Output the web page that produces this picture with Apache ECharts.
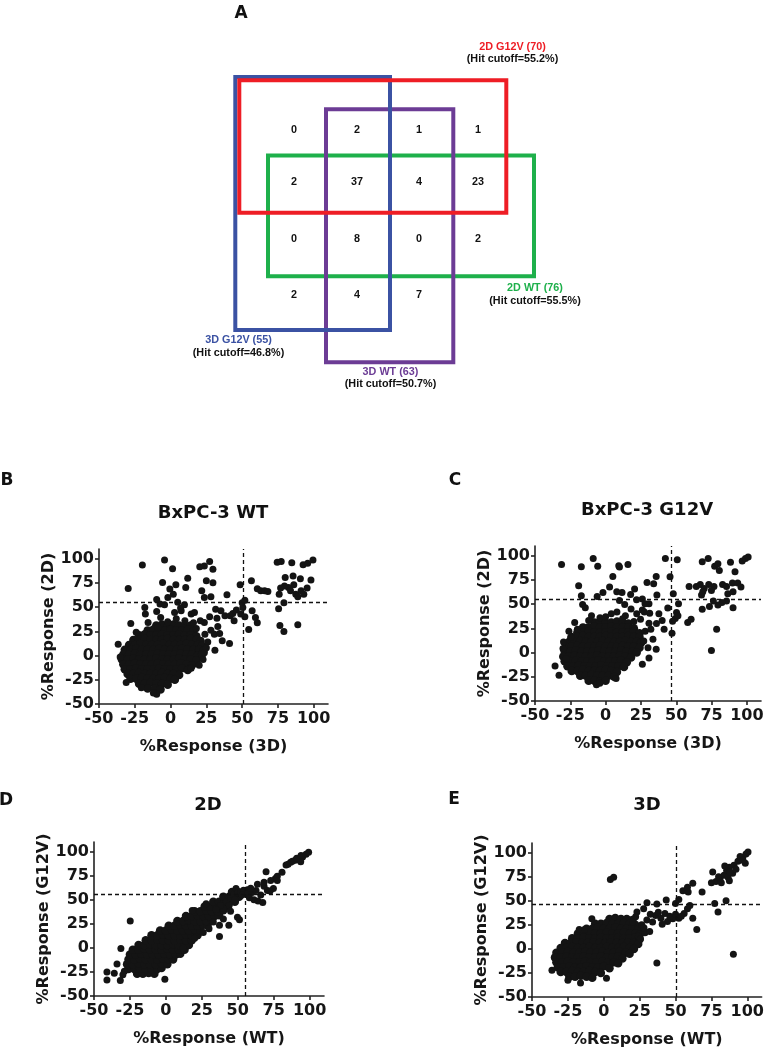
<!DOCTYPE html>
<html>
<head>
<meta charset="utf-8">
<script src="https://cdn.jsdelivr.net/npm/echarts@6/dist/echarts.min.js"></script>
<style>
  html, body { margin: 0; padding: 0; background: #fff; }
  #chart { width: 767px; height: 1050px; }
</style>
</head>
<body>
<div id="chart"></div>
<script>
// ---- panel A: hit overlap counts (rows top->bottom, cols left->right)
const vennCounts = [
  [0, 2, 1, 1],
  [2, 37, 4, 23],
  [0, 8, 0, 2],
  [2, 4, 7, null],
];
const setNames = ["2D G12V", "2D WT", "3D G12V", "3D WT"];
const setHits = [70, 76, 55, 63];
const setCutoffs = [55.2, 55.5, 46.8, 50.7];

const axisTicks = [-50, -25, 0, 25, 50, 75, 100];

// ---- panel B: BxPC-3 WT, x = 3D, y = 2D
const bCore = [
  [-10,31],[-6,32],[-2,31],[2,32],[6,31],[10,30],[14,31],
  [-16,26],[-12,27],[-8,26],[-4,26],[0,27],[4,26],[8,26],[12,27],[16,25],
  [-22,21],[-18,22],[-14,21],[-10,21],[-6,22],[-2,21],[2,21],[6,22],[10,21],[14,21],[18,20],
  [-26,16],[-22,16],[-18,17],[-14,16],[-10,16],[-6,16],[-2,17],[2,16],[6,16],[10,16],[14,17],[18,16],[21,15],
  [-29,11],[-25,11],[-21,12],[-17,11],[-13,11],[-9,11],[-5,12],[-1,11],[3,11],[7,11],[11,12],[15,11],[19,11],[22,10],
  [-32,6],[-28,6],[-24,7],[-20,6],[-16,6],[-12,6],[-8,7],[-4,6],[0,6],[4,6],[8,7],[12,6],[16,6],[20,6],[23,5],
  [-33,1],[-29,1],[-25,2],[-21,1],[-17,1],[-13,1],[-9,2],[-5,1],[-1,1],[3,1],[7,2],[11,1],[15,1],[19,0],[22,1],
  [-34,-4],[-30,-4],[-26,-3],[-22,-4],[-18,-4],[-14,-4],[-10,-3],[-6,-4],[-2,-4],[2,-4],[6,-3],[10,-4],[14,-4],[18,-5],
  [-33,-9],[-29,-9],[-25,-8],[-21,-9],[-17,-9],[-13,-9],[-9,-8],[-5,-9],[-1,-9],[3,-9],[7,-8],[11,-9],[15,-10],
  [-32,-14],[-28,-14],[-24,-13],[-20,-14],[-16,-14],[-12,-14],[-8,-13],[-4,-14],[0,-14],[4,-14],[8,-13],[12,-15],
  [-30,-19],[-26,-19],[-22,-18],[-18,-19],[-14,-19],[-10,-19],[-6,-18],[-2,-19],[2,-19],[6,-20],
  [-28,-24],[-24,-24],[-20,-23],[-16,-24],[-12,-24],[-8,-24],[-4,-23],[0,-24],[3,-25],
  [-22,-29],[-18,-29],[-14,-28],[-10,-29],[-6,-29],[-2,-30],
  [-16,-34],[-11,-34],[-7,-35],
];
const bSpread = [
  [-19.7,93.4],[-4.2,98.6],[1.4,89.7],[-29.6,69.3],[20.4,91.7],[23.6,92.4],[27.3,97.2],[29.6,89],
  [12,79.7],[-5.6,75.5],[-0.5,68.6],[3.7,73.1],[1.9,63.4],[-1.9,60],[-9.7,57.9],[-7.4,53.1],[-4.2,52.4],
  [10.6,70.3],[9.7,52.4],[25,77.2],[29.6,75.2],[21.8,66.9],[28.2,60.7],[23.6,60],[39.4,62.8],
  [48.6,73.1],[56.5,77.2],[60.6,69],[63,66.9],[65.7,66.9],[68,66.2],[50,54.5],[51.9,57.2],[50.5,49.7],
  [49,42.8],[51.9,40],[57,46.2],[59.3,39.3],[60.6,33.8],[54.6,26.9],
  [74.5,96.2],[77.3,97.2],[84.7,95.9],[92.6,93.8],[95.8,95.2],[99.5,98.6],[80.1,80.7],[85.6,82.1],
  [90.7,79.3],[86.1,73.1],[82.4,70.3],[79.6,71.7],[76.9,69.7],[83.8,66.9],[87.5,63.4],[91.2,66.9],
  [95.4,69.7],[98.1,77.9],[88.9,60.7],[93.1,63.4],[75.9,63.4],[75.5,48.3],[79.2,54.5],[76.4,31],
  [79.2,24.8],[88.9,31.7],[31.5,47.9],[35.2,46.2],[38,41],[41.7,41],[32.4,38.6],[27.3,40],[23.6,34.1],
  [28.2,26.2],[30.6,22],[34.3,22.8],[36.1,15.2],[41.2,12.4],[31,5.5],[23.6,2.8],[22.7,-4.1],[14.4,-13.1],
  [-17.6,42.8],[-15.7,34.1],[-27.8,33.1],[-18,49.7],[-9.7,45.5],[-6.9,39.3],[-8.8,29],[2.8,44.5],
  [7.4,46.2],[14.4,42.8],[-36.6,11.7],[-35.2,-1.4],[-31,-27.9],[-20.4,-33.1],[-9.7,-40],[-12,-38.6],
  [16.7,44.5],[20.8,35.9],[44.4,35.9],[43.5,43.4],[46,47],[18,28],[24,22],[26,14],[33,30],[5,55],[7,49],
  [10,36],[4,38],[-2,35],[16,34],[25,8],[20,-10],[-24,24],
];

// ---- panel C: BxPC-3 G12V, x = 3D, y = 2D
const cCore = [
  [-8,31],[-4,32],[0,31],[4,31],[8,32],[12,31],[16,30],
  [-16,26],[-12,26],[-8,27],[-4,26],[0,26],[4,27],[8,26],[12,26],[16,26],[20,25],
  [-20,21],[-16,21],[-12,22],[-8,21],[-4,21],[0,21],[4,22],[8,21],[12,21],[16,21],[20,22],[24,20],
  [-24,16],[-20,16],[-16,17],[-12,16],[-8,16],[-4,16],[0,17],[4,16],[8,16],[12,16],[16,17],[20,16],[24,16],
  [-26,11],[-22,11],[-18,12],[-14,11],[-10,11],[-6,11],[-2,12],[2,11],[6,11],[10,11],[14,12],[18,11],[22,11],[25,10],
  [-28,6],[-24,6],[-20,7],[-16,6],[-12,6],[-8,6],[-4,7],[0,6],[4,6],[8,6],[12,7],[16,6],[20,6],[24,5],
  [-29,1],[-25,1],[-21,2],[-17,1],[-13,1],[-9,1],[-5,2],[-1,1],[3,1],[7,1],[11,2],[15,1],[19,1],[22,0],
  [-30,-4],[-26,-4],[-22,-3],[-18,-4],[-14,-4],[-10,-4],[-6,-3],[-2,-4],[2,-4],[6,-4],[10,-3],[14,-4],[18,-5],
  [-29,-9],[-25,-9],[-21,-8],[-17,-9],[-13,-9],[-9,-9],[-5,-8],[-1,-9],[3,-9],[7,-9],[11,-8],[15,-10],
  [-27,-14],[-23,-14],[-19,-13],[-15,-14],[-11,-14],[-7,-14],[-3,-13],[1,-14],[5,-14],[9,-14],[13,-15],
  [-24,-19],[-20,-19],[-16,-18],[-12,-19],[-8,-19],[-4,-19],[0,-18],[4,-19],[8,-20],
  [-18,-24],[-14,-24],[-10,-23],[-6,-24],[-2,-24],[2,-24],[6,-25],
  [-12,-29],[-8,-29],[-4,-30],[0,-29],
];
const cSpread = [
  [-31.2,91],[-8.8,97.2],[-5.6,89],[-17.2,88.6],[9.3,89.6],[9.8,88.3],[15.8,91],[42.3,97.2],[50.7,95.9],
  [45.6,78.3],[68.4,93.8],[72.6,97.2],[77.2,89],[79.5,91.7],[80.5,84.8],[88.4,93.1],[91.6,83.4],
  [96.7,94.5],[99,97.2],[100.9,98.6],[59.1,68.3],[64.2,68.3],[67,70.3],[69.8,66.2],[73,70.3],
  [76.7,68.3],[82.8,70.3],[85.6,68.3],[89.8,71.7],[93.5,71.7],[95.8,67.6],[67.9,59.3],[68.8,62.8],
  [74.9,64.1],[86.5,60.7],[90.2,62.8],[85.6,53.1],[82.3,51.7],[73.5,47.6],[79.5,49],[90.2,46.2],
  [68.4,44.8],[76.3,53.1],[78.6,24.1],[74.9,2.1],[47.9,60.7],[51.6,50.3],[50.2,41.4],[49.3,35.2],
  [47.4,32.4],[51.2,37.9],[47,20],[58.1,31],[60.5,34.5],[35.8,78.6],[34,71],[29.3,72.4],[36.3,59.3],
  [30.7,50.3],[31.2,40.7],[26,55.2],[27.9,50.3],[21.9,54.5],[17.7,60],[13.5,49.7],[9.8,53.8],
  [5.1,78.6],[-1.9,62.1],[-6,57.9],[2.8,67.6],[11.6,62.1],[20.5,65.5],[7.9,62.8],[-19.1,69],
  [-17.2,58.6],[-16.3,49.7],[-14.4,46.2],[-21.9,31],[-24.7,15.9],[-29.8,11],[-30.2,4.1],[-35.8,-13.8],
  [-33,-23.4],[-27.9,-6.2],[-6.5,-33.1],[-4.2,-31.7],[7.4,-26.9],[24.7,34.5],[30.7,30.3],[37.7,40],
  [41.4,24.1],[33.5,13.8],[35.8,3.4],[30.7,-5.5],[18,45],[22,40],[14,38],[26,44],[8,42],[-10,38],
  [-12,33],[-20,24],[28,22],[32,24],[27,12],[30,5],[36,30],[40,33],[44,46],[27.4,42],[4,40],[-4,36],
  [12,35],[0,37],[20,32],[26,-12],[-26,22],
];

// ---- panel D: 2D, x = WT, y = G12V
const dCore = [
  [-20,-27],[-16,-27],[-12,-26],[-8,-27],
  [-26,-22],[-22,-22],[-18,-21],[-14,-22],[-10,-22],[-6,-22],[-3,-21],
  [-27,-17],[-23,-17],[-19,-16],[-15,-17],[-11,-17],[-7,-17],[-3,-16],[1,-17],
  [-26,-12],[-22,-12],[-18,-11],[-14,-12],[-10,-12],[-6,-12],[-2,-11],[2,-12],[5,-12],
  [-25,-7],[-21,-7],[-17,-6],[-13,-7],[-9,-7],[-5,-7],[-1,-6],[3,-7],[7,-7],[10,-6],
  [-23,-2],[-19,-2],[-15,-1],[-11,-2],[-7,-2],[-3,-2],[1,-1],[5,-2],[9,-2],[13,-2],
  [-19,3],[-15,3],[-11,4],[-7,3],[-3,3],[1,3],[5,4],[9,3],[13,3],[16,3],
  [-14,8],[-10,8],[-6,9],[-2,8],[2,8],[6,8],[10,9],[14,8],[18,8],
  [-10,13],[-6,13],[-2,14],[2,13],[6,13],[10,13],[14,14],[18,13],[22,13],
  [-4,18],[0,18],[4,19],[8,18],[12,18],[16,18],[20,19],[24,18],
  [2,23],[6,23],[10,24],[14,23],[18,23],[22,23],[26,24],[29,23],
  [8,28],[12,28],[16,29],[20,28],[24,28],[28,28],[32,29],
  [14,33],[18,33],[22,34],[26,33],[30,33],[34,33],[37,34],
  [20,38],[24,38],[28,39],[32,38],[36,38],[40,39],
  [27,43],[31,43],[35,44],[39,43],[43,43],
  [33,48],[37,48],[41,49],[45,48],[48,48],
  [40,53],[44,53],[48,54],[51,53],
  [46,58],[50,58],
];
const dSpread = [
  [-24.8,27.8],[-41,-25],[-41,-33.3],[-35.9,-26.4],[-31.7,-34],[-34,-16.7],[-28.9,-24.3],[-29.9,-27.8],
  [-31.3,-0.7],[-0.7,-32.6],[18.3,38.9],[28,45.8],[37.3,23.6],[37.3,11.8],[43.8,23.6],[49.8,31.9],
  [51.2,29.2],[48.8,61.8],[56.7,60.4],[60,57.6],[61.3,50],[64.1,48.6],[67.4,47.2],[66,54.9],[68.3,63.9],
  [70.6,59.7],[74.8,61.8],[76.2,72.2],[69.7,79.2],[77.5,74.3],[80.8,78.5],[72.5,59],[62.7,59.7],
  [58.1,52.1],[83.6,86.1],[86.8,88.9],[90,91],[92.8,92.4],[95.1,94.4],[97.5,97.2],[99.3,99.3],
  [93.8,89.6],[72.9,70.1],[77.5,70.1],[68.3,68.1],[63.7,66],[42,48],[45,52],[47,55],[50,57],[52,58],
  [54,60],[44,44],[48,50],[40,41],[38,44],[35,40],[53,55],[57,56],[59,62],[88,90],[91,93],[85,87],
  [94,96],[30,20],[33,27],[26,16],[20,10],[12,0],[40,30],[45,38],
];

// ---- panel E: 3D, x = WT, y = G12V
const eCore = [
  [4,31],[8,32],[12,31],[16,31],[20,30],
  [-6,26],[-2,26],[2,27],[6,26],[10,26],[14,27],[18,26],[22,25],
  [-12,21],[-8,21],[-4,22],[0,21],[4,21],[8,22],[12,21],[16,21],[20,22],[24,20],
  [-18,16],[-14,16],[-10,17],[-6,16],[-2,16],[2,17],[6,16],[10,16],[14,17],[18,16],[22,16],[25,15],
  [-22,11],[-18,11],[-14,12],[-10,11],[-6,11],[-2,12],[2,11],[6,11],[10,12],[14,11],[18,11],[22,12],[25,10],
  [-27,6],[-23,6],[-19,7],[-15,6],[-11,6],[-7,7],[-3,6],[1,6],[5,7],[9,6],[13,6],[17,7],[21,6],[24,5],
  [-30,1],[-26,1],[-22,2],[-18,1],[-14,1],[-10,2],[-6,1],[-2,1],[2,2],[6,1],[10,1],[14,2],[18,1],[21,0],
  [-33,-4],[-29,-4],[-25,-3],[-21,-4],[-17,-4],[-13,-3],[-9,-4],[-5,-4],[-1,-3],[3,-4],[7,-4],[11,-3],[15,-4],[18,-5],
  [-34,-9],[-30,-9],[-26,-8],[-22,-9],[-18,-9],[-14,-8],[-10,-9],[-6,-9],[-2,-8],[2,-9],[6,-9],[10,-8],[13,-10],
  [-33,-14],[-29,-14],[-25,-13],[-21,-14],[-17,-14],[-13,-13],[-9,-14],[-5,-14],[-1,-13],[3,-14],[7,-14],[10,-15],
  [-32,-19],[-28,-19],[-24,-18],[-20,-19],[-16,-19],[-12,-18],[-8,-19],[-4,-19],[0,-18],[4,-20],
  [-30,-24],[-26,-24],[-22,-23],[-18,-24],[-14,-24],[-10,-23],[-6,-24],[-2,-25],
  [-24,-29],[-20,-29],[-16,-28],[-12,-29],[-8,-30],
];
const eSpread = [
  [4.6,72.2],[6.9,74.3],[-8.3,31.3],[-17.1,20.1],[-13.4,20.1],[-36.1,-22.2],[-25,-32.6],[-16.2,-35.4],
  [1.9,-30.6],[37,-14.6],[90.3,-5.6],[85.2,50],[77.3,47.2],[79.6,38.2],[64.8,20.1],[62,31.9],
  [75.9,79.9],[78.2,70.1],[75,68.8],[81,72.9],[83.8,76.4],[85.6,81.3],[87.5,84.7],[90.7,86.8],
  [93.5,91],[96.8,95.1],[99.1,98.6],[100.5,100.7],[98.6,88.9],[89.8,78.5],[86.6,74.3],[92.1,82.6],
  [84.3,86.1],[81.9,68.8],[87.5,70.8],[55.1,60.4],[58.3,63.9],[62,68.1],[58.8,59],[68.5,59],
  [52.3,51.4],[50,47.2],[43.5,50.7],[37,46.5],[30.1,47.9],[42.6,36.8],[52.3,31.9],[56,36.8],
  [58.3,41.7],[48.1,31.3],[44.4,28.5],[40.7,25.7],[36.1,34.7],[32.4,36.1],[27.8,41.7],[23.1,38.2],
  [26.4,25],[24.1,13.2],[22.2,33.3],[39.8,31.9],[28.7,16.7],[25.5,10.4],[30,30],[34,28],[38,38],
  [46,34],[50,36],[54,34],[60,45],[28,22],[32,18],[20,28],[95,96],[97,92],[80,75],[88,80],
];

// ------------------------------------------------------------------
const INK = "#141414";
const tickFont = { fontFamily: "DejaVu Sans", fontWeight: "bold", fontSize: 16, color: "#161616" };
const nameFont = { fontFamily: "DejaVu Sans", fontWeight: "bold", fontSize: 16, color: "#161616" };

const panels = [
  { grid: { left: 99, top: 549, width: 229, height: 155 }, x: "%Response (3D)", y: "%Response (2D)",
    core: bCore, spread: bSpread, cut: [setCutoffs[3], setCutoffs[1]] },
  { grid: { left: 535, top: 546, width: 226, height: 155 }, x: "%Response (3D)", y: "%Response (2D)",
    core: cCore, spread: cSpread, cut: [setCutoffs[2], setCutoffs[0]] },
  { grid: { left: 94, top: 842, width: 230, height: 154 }, x: "%Response (WT)", y: "%Response (G12V)",
    core: dCore, spread: dSpread, cut: [setCutoffs[1], setCutoffs[0]] },
  { grid: { left: 532, top: 843, width: 230, height: 154 }, x: "%Response (WT)", y: "%Response (G12V)",
    core: eCore, spread: eSpread, cut: [setCutoffs[3], setCutoffs[2]] },
];

function axisBase(i, name, isX) {
  return {
    gridIndex: i,
    type: "value",
    min: -50,
    max: 110,
    name: name,
    nameLocation: "middle",
    nameGap: isX ? 35 : 42,
    nameTextStyle: nameFont,
    axisLine: { show: true, onZero: false, lineStyle: { color: "#222", width: 1.6 } },
    axisTick: { show: true, length: 4, customValues: axisTicks, lineStyle: { color: "#222", width: 1.6 } },
    axisLabel: Object.assign({ customValues: axisTicks, margin: isX ? 7 : 5 }, tickFont),
    splitLine: { show: false },
  };
}

// panel A drawing (graphic, no axes)
const vennRects = [
  { x: 268, y: 155.5, w: 266, h: 120.7, color: "#1eb04b" },
  { x: 326, y: 109.3, w: 127.3, h: 252.9, color: "#6c3c95" },
  { x: 235.3, y: 77, w: 154.7, h: 253, color: "#3b52a3" },
  { x: 239.3, y: 80.3, w: 267, h: 132.4, color: "#ee1d25" },
];
const vennColX = [294, 357, 419, 478];
const vennRowY = [130.5, 182, 239.5, 295];
const setLabelPos = [
  { x: 512.5, y: 47, color: "#ee1d25" },
  { x: 535, y: 288.5, color: "#1eb04b" },
  { x: 238.5, y: 340.5, color: "#3b52a3" },
  { x: 390.5, y: 372, color: "#6c3c95" },
];

function txt(text, x, y, font, fill) {
  return {
    type: "text",
    silent: true,
    style: {
      text: text, x: x, y: y, font: font, fill: fill,
      textAlign: "center", textVerticalAlign: "middle", align: "center", verticalAlign: "middle",
    },
  };
}

const vennFont = 'bold 10.8px "Liberation Sans", Arial, sans-serif';
const graphic = [];
vennRects.forEach((r) => {
  graphic.push({
    type: "rect",
    silent: true,
    shape: { x: r.x, y: r.y, width: r.w, height: r.h },
    style: { fill: "none", stroke: r.color, lineWidth: 4 },
  });
});
vennCounts.forEach((row, ri) => {
  row.forEach((v, ci) => {
    if (v !== null) graphic.push(txt(String(v), vennColX[ci], vennRowY[ri], vennFont, "#111"));
  });
});
setNames.forEach((n, i) => {
  const p = setLabelPos[i];
  graphic.push(txt(n + " (" + setHits[i] + ")", p.x, p.y, vennFont, p.color));
  graphic.push(txt("(Hit cutoff=" + setCutoffs[i] + "%)", p.x, p.y + 12.3, vennFont, "#111"));
});

// panel letters and titles
const letterFont = 'bold 17px "DejaVu Sans", sans-serif';
const titleFont = 'bold 18px "DejaVu Sans", sans-serif';
graphic.push(txt("A", 241, 14, letterFont, "#111"));
graphic.push(txt("B", 7, 481, letterFont, "#111"));
graphic.push(txt("C", 455, 481, letterFont, "#111"));
graphic.push(txt("D", 6, 801, letterFont, "#111"));
graphic.push(txt("E", 454, 800, letterFont, "#111"));
graphic.push(txt("BxPC-3 WT", 213, 513, titleFont, "#111"));
graphic.push(txt("BxPC-3 G12V", 647, 510, titleFont, "#111"));
graphic.push(txt("2D", 208, 805, titleFont, "#111"));
graphic.push(txt("3D", 647, 805, titleFont, "#111"));

const series = [];
panels.forEach((p, i) => {
  series.push({
    type: "scatter",
    xAxisIndex: i,
    yAxisIndex: i,
    data: p.core,
    symbolSize: 8.5,
    itemStyle: { color: INK, opacity: 1 },
    silent: true,
  });
  series.push({
    type: "scatter",
    xAxisIndex: i,
    yAxisIndex: i,
    data: p.spread,
    symbolSize: 7,
    itemStyle: { color: INK, opacity: 1 },
    silent: true,
    markLine: {
      silent: true,
      symbol: "none",
      label: { show: false },
      lineStyle: { color: "#111", width: 1.3, type: [4, 3] },
      data: [{ xAxis: p.cut[0] }, { yAxis: p.cut[1] }],
    },
  });
});

const option = {
  animation: false,
  backgroundColor: "#fff",
  grid: panels.map((p) => Object.assign({ containLabel: false }, p.grid)),
  xAxis: panels.map((p, i) => axisBase(i, p.x, true)),
  yAxis: panels.map((p, i) => axisBase(i, p.y, false)),
  series: series,
  graphic: graphic,
};

const chart = echarts.init(document.getElementById("chart"));
chart.setOption(option);
</script>
</body>
</html>
